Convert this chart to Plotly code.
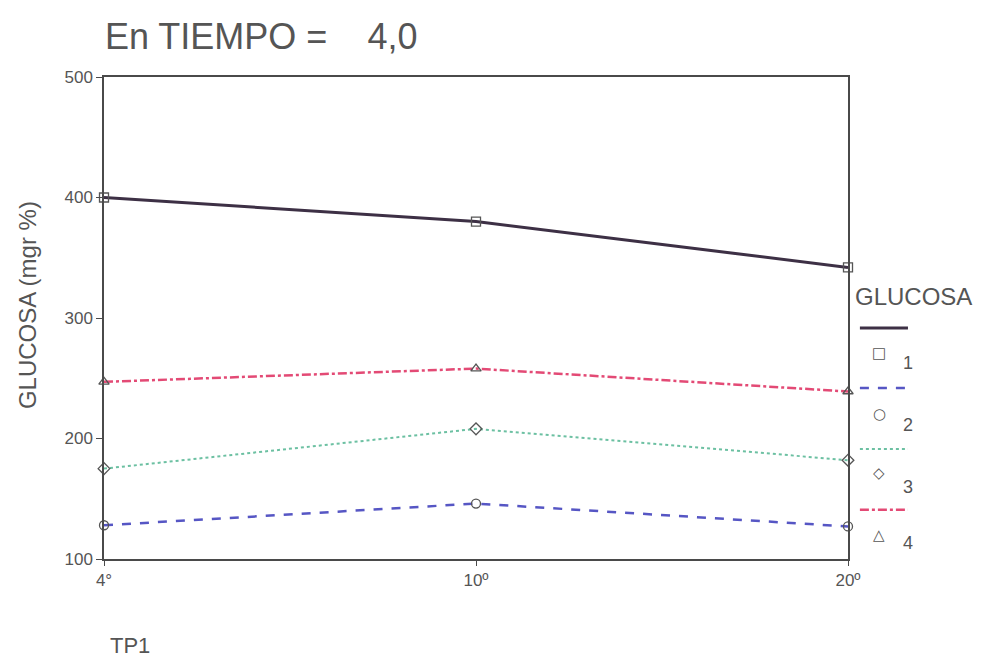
import plotly.graph_objects as go

# ---- data ----
categories = ["4°", "10º", "20º"]
series_names = ["1", "2", "3", "4"]
glucosa_1 = [400, 380, 342]
glucosa_2 = [128, 146, 127]
glucosa_3 = [175, 208, 182]
glucosa_4 = [247, 258, 239]
y_ticks = [100, 200, 300, 400, 500]

series_values = [glucosa_1, glucosa_2, glucosa_3, glucosa_4]
colors = ["#3d3045", "#5656c4", "#6cc0a2", "#e34a75"]
dashes = ["solid", "dash", "dot", "dashdot"]
widths = [3, 2.5, 2, 2.5]
symbols = ["square-open", "circle-open", "diamond-open", "triangle-up-open"]
legend_syms = ["□", "○", "◇", "△"]

fig = go.Figure()
for name, vals, c, d, w, s in zip(series_names, series_values, colors, dashes, widths, symbols):
    fig.add_trace(go.Scatter(
        x=categories, y=vals, name=name, mode="lines+markers",
        line=dict(color=c, dash=d, width=w),
        marker=dict(symbol=s, size=9, color="#555555", line=dict(width=1.3, color="#555555")),
        cliponaxis=False, showlegend=False,
    ))

font_family = "Liberation Sans, Arial, sans-serif"
txt = "#555555"

fig.update_layout(
    width=977, height=649,
    margin=dict(l=96, r=137, t=69, b=98),
    paper_bgcolor="white", plot_bgcolor="white",
    font=dict(family=font_family, color=txt),
    title=dict(text="En TIEMPO =    4,0", x=0.0013, xref="paper", xanchor="left",
               y=1 - 28 / 649, yref="container", yanchor="middle",
               font=dict(size=36, color=txt, family=font_family)),
    xaxis=dict(type="category", range=[0, 2], showline=True, linecolor="#4a4a4a", linewidth=1.5,
               mirror=True, ticks="outside", ticklen=5, tickcolor="#4a4a4a",
               showgrid=False, zeroline=False, tickfont=dict(size=17, color=txt)),
    yaxis=dict(range=[100, 500], tickvals=y_ticks, showline=True, linecolor="#4a4a4a", linewidth=1.5,
               mirror=True, ticks="outside", ticklen=6, tickcolor="#4a4a4a",
               showgrid=False, zeroline=False, tickfont=dict(size=17, color=txt)),
)

# y axis title
fig.add_annotation(text="GLUCOSA (mgr %)", xref="paper", yref="paper", x=-0.102, y=0.527,
                   xanchor="center", yanchor="middle", textangle=-90, showarrow=False,
                   font=dict(size=24, color=txt))

# x axis caption
fig.add_annotation(text="TP1", xref="paper", yref="paper", x=0.005, y=-0.18,
                   xanchor="left", yanchor="middle", showarrow=False,
                   font=dict(size=22, color=txt))

# custom legend
fig.add_annotation(text="GLUCOSA", xref="paper", yref="paper", x=1.0067, y=0.5436,
                   xanchor="left", yanchor="middle", showarrow=False,
                   font=dict(size=24, color=txt))
line_y = [0.479, 0.355, 0.228, 0.102]
sym_y = [0.427, 0.301, 0.178, 0.050]
num_y = [0.407, 0.278, 0.149, 0.033]
for i in range(4):
    fig.add_shape(type="line", xref="paper", yref="paper", x0=1.016, x1=1.0806,
                  y0=line_y[i], y1=line_y[i],
                  line=dict(color=colors[i], dash=dashes[i], width=widths[i]))
    fig.add_annotation(text=legend_syms[i], xref="paper", yref="paper", x=1.0417, y=sym_y[i],
                       xanchor="center", yanchor="middle", showarrow=False,
                       font=dict(size=15, color=txt, family="DejaVu Sans"))
    fig.add_annotation(text=series_names[i], xref="paper", yref="paper", x=1.0806, y=num_y[i],
                       xanchor="center", yanchor="middle", showarrow=False,
                       font=dict(size=18, color=txt))

fig.write_html("out.html")
